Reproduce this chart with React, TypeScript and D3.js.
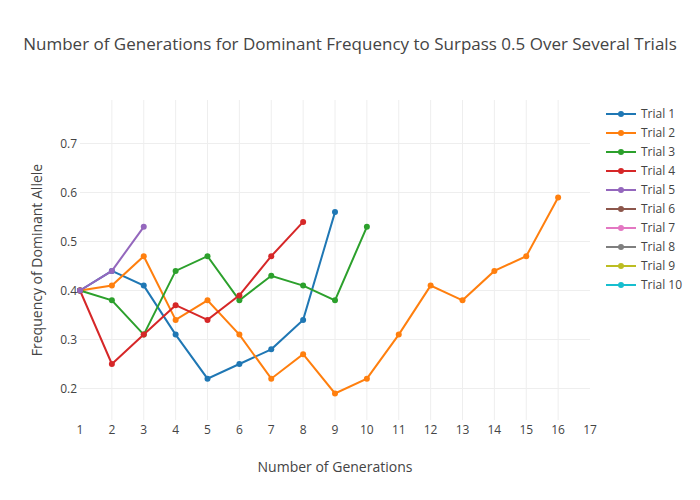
import React, { useRef, useEffect } from 'react';
import * as d3 from 'd3';

const trialNames = ['Trial 1', 'Trial 2', 'Trial 3', 'Trial 4', 'Trial 5', 'Trial 6', 'Trial 7', 'Trial 8', 'Trial 9', 'Trial 10'];
const trialColors = ['#1f77b4', '#ff7f0e', '#2ca02c', '#d62728', '#9467bd', '#8c564b', '#e377c2', '#7f7f7f', '#bcbd22', '#17becf'];

const trial1 = [0.4, 0.44, 0.41, 0.31, 0.22, 0.25, 0.28, 0.34, 0.56];
const trial2 = [0.4, 0.41, 0.47, 0.34, 0.38, 0.31, 0.22, 0.27, 0.19, 0.22, 0.31, 0.41, 0.38, 0.44, 0.47, 0.59];
const trial3 = [0.4, 0.38, 0.31, 0.44, 0.47, 0.38, 0.43, 0.41, 0.38, 0.53];
const trial4 = [0.4, 0.25, 0.31, 0.37, 0.34, 0.39, 0.47, 0.54];
const trial5 = [0.4, 0.44, 0.53];
const trial6: number[] = [];
const trial7: number[] = [];
const trial8: number[] = [];
const trial9: number[] = [];
const trial10: number[] = [];

const xTicks = d3.range(1, 18);
const yTicks = [0.2, 0.3, 0.4, 0.5, 0.6, 0.7];

const W = 700, H = 500;
const m = { left: 80, right: 110, top: 100, bottom: 80 };
const FONT = '"Open Sans", verdana, arial, sans-serif';

const App: React.FC = () => {
  const ref = useRef<SVGSVGElement | null>(null);

  useEffect(() => {
    const svg = d3.select(ref.current);
    svg.selectAll('*').remove();

    const series = [trial1, trial2, trial3, trial4, trial5, trial6, trial7, trial8, trial9, trial10];

    const x = d3.scaleLinear().domain([1, 17]).range([m.left, W - m.right]);
    const y = d3.scaleLinear().domain([0.1357, 0.7888]).range([H - m.bottom, m.top]);

    svg.attr('width', W).attr('height', H).style('font-family', FONT);
    svg.append('rect').attr('width', W).attr('height', H).attr('fill', '#fff');

    // grid
    const grid = svg.append('g');
    xTicks.slice(1, -1).forEach((t) => {
      grid.append('line')
        .attr('x1', x(t)).attr('x2', x(t))
        .attr('y1', m.top).attr('y2', H - m.bottom)
        .attr('stroke', '#eee').attr('stroke-width', 1);
    });
    yTicks.forEach((t) => {
      grid.append('line')
        .attr('x1', m.left).attr('x2', W - m.right)
        .attr('y1', y(t)).attr('y2', y(t))
        .attr('stroke', '#eee').attr('stroke-width', 1);
    });

    // tick labels
    xTicks.forEach((t) => {
      svg.append('text')
        .attr('x', x(t)).attr('y', H - m.bottom + 14)
        .attr('text-anchor', 'middle').attr('font-size', 12).attr('fill', '#444')
        .text(String(t));
    });
    yTicks.forEach((t) => {
      svg.append('text')
        .attr('x', m.left - 3).attr('y', y(t)).attr('dy', '0.35em')
        .attr('text-anchor', 'end').attr('font-size', 12).attr('fill', '#444')
        .text(d3.format('.1f')(t));
    });

    // lines + markers
    const line = d3.line<number>()
      .x((_, i) => x(i + 1))
      .y((d) => y(d));

    series.forEach((s, k) => {
      const g = svg.append('g');
      g.append('path')
        .attr('d', line(s) || '')
        .attr('fill', 'none')
        .attr('stroke', trialColors[k])
        .attr('stroke-width', 2);
      s.forEach((v, i) => {
        g.append('circle')
          .attr('cx', x(i + 1)).attr('cy', y(v)).attr('r', 3)
          .attr('fill', trialColors[k]);
      });
    });

    // titles
    svg.append('text')
      .attr('x', W / 2).attr('y', 50)
      .attr('text-anchor', 'middle').attr('font-size', 17).attr('fill', '#444')
      .text('Number of Generations for Dominant Frequency to Surpass 0.5 Over Several Trials');
    svg.append('text')
      .attr('x', (m.left + W - m.right) / 2).attr('y', 472)
      .attr('text-anchor', 'middle').attr('font-size', 14).attr('fill', '#444')
      .text('Number of Generations');
    svg.append('text')
      .attr('transform', `translate(42, ${(m.top + H - m.bottom) / 2}) rotate(-90)`)
      .attr('text-anchor', 'middle').attr('font-size', 14).attr('fill', '#444')
      .text('Frequency of Dominant Allele');

    // legend
    const lg = svg.append('g').attr('transform', 'translate(606, 114)');
    trialNames.forEach((name, k) => {
      const row = lg.append('g').attr('transform', `translate(0, ${k * 19})`);
      row.append('line').attr('x1', 0).attr('x2', 30).attr('y1', 0).attr('y2', 0)
        .attr('stroke', trialColors[k]).attr('stroke-width', 2);
      row.append('circle').attr('cx', 15).attr('cy', 0).attr('r', 3).attr('fill', trialColors[k]);
      row.append('text').attr('x', 35).attr('y', 0).attr('dy', '0.35em')
        .attr('font-size', 12).attr('fill', '#444').text(name);
    });
  }, []);

  return <svg ref={ref} style={{ display: 'block', position: 'absolute', left: 0, top: 0 }} />;
};

export default App;
